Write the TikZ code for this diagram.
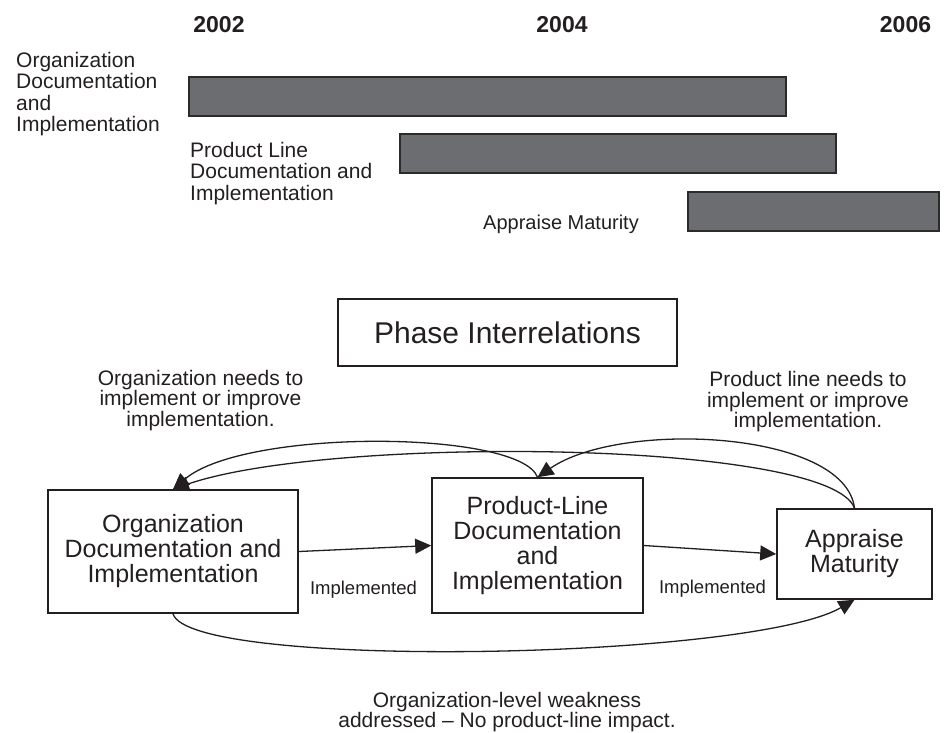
\documentclass[tikz,border=0pt]{standalone}
\usepackage{fontspec}
\setmainfont{Liberation Sans}
\usetikzlibrary{arrows.meta}
\definecolor{ink}{HTML}{231F20}
\definecolor{barfill}{HTML}{6C6D71}
\definecolor{barline}{HTML}{2B2B2B}
\tikzset{
  bar/.style={fill=barfill, draw=barline, line width=1.3pt},
  year/.style={font=\bfseries\fontsize{23}{24}\selectfont, anchor=base, text=ink, inner sep=0pt},
  tlabel/.style={font=\fontsize{21}{21.3}\selectfont, align=left, anchor=north west, text=ink, inner sep=0pt},
  note/.style={font=\fontsize{21}{20.5}\selectfont, align=center, anchor=north, text=ink, inner sep=0pt},
  phasebox/.style={draw=ink, line width=1.6pt, align=center, text=ink, inner sep=0pt,
    font=\fontsize{25}{25}\selectfont},
  impl/.style={font=\fontsize{18.5}{19}\selectfont, anchor=base, text=ink, inner sep=0pt},
  conn/.style={draw=ink, line width=1.3pt, -{Triangle[length=16pt,width=15pt]}},
}
\begin{document}
\begin{tikzpicture}[x=1pt,y=-1pt]
\useasboundingbox (0,0) rectangle (949,732);
% years
\node[year] (y2002) at (219,32) {2002};
\node[year] (y2004) at (562,32) {2004};
\node[year] (y2006) at (905.5,32) {2006};
% timeline labels
\node[tlabel] (l1) at (16,52) {Organization\\Documentation\\and\\Implementation};
\node[tlabel] (l2) at (190,142) {Product Line\\Documentation and\\Implementation};
\node[tlabel, font=\fontsize{20}{21}\selectfont] (l3) at (483,215) {Appraise Maturity};
% bars
\draw[bar] (189,77) rectangle (786,116);
\draw[bar] (400,134) rectangle (836,173);
\draw[bar] (688,192) rectangle (939,231);
% title box
\node[phasebox, minimum width=339pt, minimum height=67pt, font=\fontsize{30}{30}\selectfont] (phase) at (507.5,332.5) {Phase Interrelations};
% notes
\node[note] (n1) at (200.5,370) {Organization needs to\\implement or improve\\implementation.};
\node[note] (n2) at (808,371.5) {Product line needs to\\implement or improve\\implementation.};
% main boxes
\node[phasebox, minimum width=250pt, minimum height=123pt] (org) at (173,551.5) {Organization\\Documentation and\\Implementation};
\node[phasebox, minimum width=211pt, minimum height=135pt] (prod) at (537.5,545.5) {Product-Line\\Documentation\\and\\Implementation};
\node[phasebox, minimum width=155pt, minimum height=90pt] (app) at (854.5,554) {Appraise\\Maturity};
% straight connectors
\draw[conn] (org.east) -- (prod.west);
\draw[conn] (prod.east) -- (app.west);
\node[impl] (i1) at (363.5,594) {Implemented};
\node[impl] (i2) at (712.5,593) {Implemented};
% curved connectors
\draw[conn] (prod.north) .. controls (520,430) and (245,428) .. (org.north);
\draw[conn] (app.north) .. controls (830,440) and (330,435) .. (org.north);
\draw[conn] (app.north) .. controls (845,430) and (620,420) .. (prod.north);
\draw[conn] (org.south) .. controls (190,670) and (750,660) .. (app.south);
% bottom note
\node[note] (n3) at (507,692) {Organization-level weakness\\addressed -- No product-line impact.};
\end{tikzpicture}
\end{document}
